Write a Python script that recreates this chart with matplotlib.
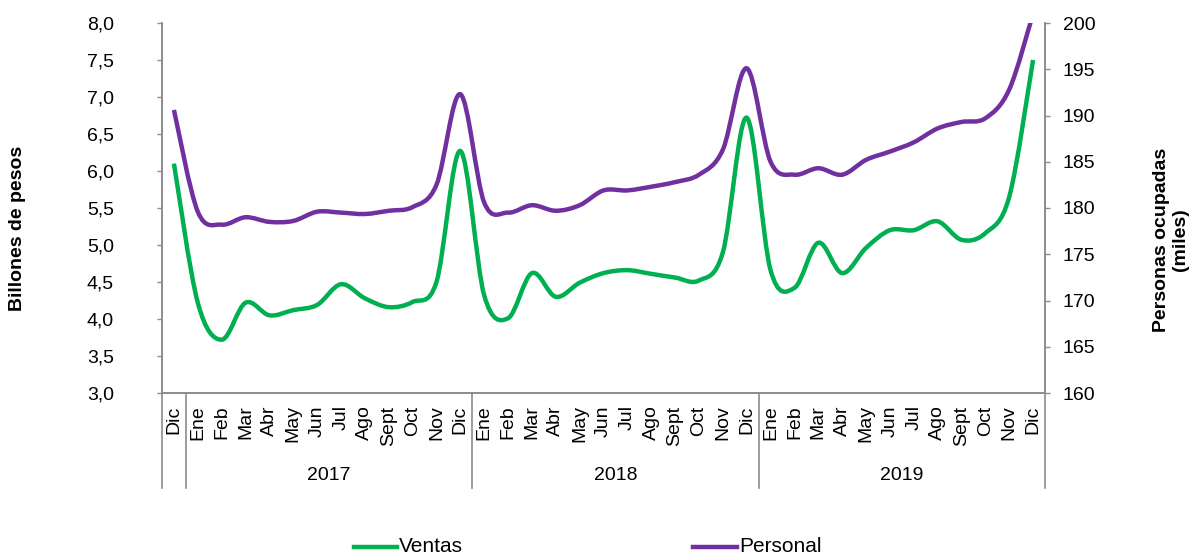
import matplotlib
matplotlib.use("Agg")
import matplotlib.pyplot as plt
from matplotlib.path import Path
from matplotlib.patches import PathPatch
from matplotlib.lines import Line2D
import matplotlib.transforms as mtransforms
import numpy as np

plt.rcParams['font.family'] = ['Liberation Sans', 'DejaVu Sans']

months = ["Dic",
          "Ene", "Feb", "Mar", "Abr", "May", "Jun", "Jul", "Ago", "Sept", "Oct", "Nov", "Dic",
          "Ene", "Feb", "Mar", "Abr", "May", "Jun", "Jul", "Ago", "Sept", "Oct", "Nov", "Dic",
          "Ene", "Feb", "Mar", "Abr", "May", "Jun", "Jul", "Ago", "Sept", "Oct", "Nov", "Dic"]
years = ["2017", "2018", "2019"]

ventas = [6.10,
          4.22, 3.72, 4.22, 4.05, 4.12, 4.19, 4.47, 4.28, 4.16, 4.23, 4.50, 6.27,
          4.32, 4.01, 4.62, 4.30, 4.49, 4.62, 4.66, 4.61, 4.56, 4.52, 4.90, 6.72,
          4.66, 4.42, 5.03, 4.62, 4.96, 5.20, 5.20, 5.32, 5.07, 5.16, 5.65, 7.50]
personal = [190.6,
            179.6, 178.2, 179.0, 178.5, 178.6, 179.6, 179.5, 179.35, 179.7, 180.1, 182.5, 192.3,
            180.6, 179.5, 180.3, 179.7, 180.3, 181.9, 181.9, 182.3, 182.8, 183.6, 186.3, 195.1,
            185.0, 183.6, 184.3, 183.6, 185.2, 186.1, 187.1, 188.6, 189.3, 189.7, 192.8, 201.0]

GREEN = "#00B050"
PURPLE = "#7030A0"
GRAY = "#8C8C8C"
FS = 14


def smooth_path(xs, ys):
    xs = np.asarray(xs, float)
    ys = np.asarray(ys, float)
    n = len(xs)
    verts = [(xs[0], ys[0])]
    codes = [Path.MOVETO]
    for i in range(n - 1):
        i0 = max(i - 1, 0)
        i3 = min(i + 2, n - 1)
        c1 = (xs[i] + (xs[i + 1] - xs[i0]) / 6, ys[i] + (ys[i + 1] - ys[i0]) / 6)
        c2 = (xs[i + 1] - (xs[i3] - xs[i]) / 6, ys[i + 1] - (ys[i3] - ys[i]) / 6)
        verts += [c1, c2, (xs[i + 1], ys[i + 1])]
        codes += [Path.CURVE4] * 3
    return Path(verts, codes)


fig = plt.figure(figsize=(12.02, 5.6), dpi=100)
ax = fig.add_axes([162 / 1202, 1 - 393 / 560, (1045 - 162) / 1202, (393 - 23) / 560])
ax2 = ax.twinx()

x = np.arange(len(months))
ax.add_patch(PathPatch(smooth_path(x, ventas), facecolor="none", edgecolor=GREEN,
                       lw=3.2, capstyle="butt", zorder=3))
ax2.add_patch(PathPatch(smooth_path(x, personal), facecolor="none", edgecolor=PURPLE,
                        lw=3.2, capstyle="butt", zorder=3))

ax.set_xlim(-0.5, len(months) - 0.5)
ax.set_ylim(3.0, 8.0)
ax2.set_ylim(160, 200)

yt = np.arange(3.0, 8.01, 0.5)
ax.set_yticks(yt)
ax.set_yticklabels([f"{v:.1f}".replace(".", ",") for v in yt], fontsize=FS)
yt2 = np.arange(160, 201, 5)
ax2.set_yticks(yt2)
ax2.set_yticklabels([str(v) for v in yt2], fontsize=FS)

ax.set_xticks(x)
ax.set_xticklabels(months, rotation=90, fontsize=FS, va="top")
ax.tick_params(axis="x", length=0, pad=9)
ax.tick_params(axis="y", length=3.6, color=GRAY, width=1, pad=31)
ax2.tick_params(axis="y", length=3.6, color=GRAY, width=1, pad=9)

for a in (ax, ax2):
    a.spines["top"].set_visible(False)
    for s in ("left", "right", "bottom"):
        a.spines[s].set_color(GRAY)
        a.spines[s].set_linewidth(1.2)

# group separators and year labels
trans = mtransforms.blended_transform_factory(ax.transData, ax.transAxes)
ybot = -(488 - 393) / 370
for xb in [-0.5, 0.5, 12.5, 24.5, 36.5]:
    ax.add_line(Line2D([xb, xb], [0, ybot], transform=trans, color=GRAY, lw=1.2, clip_on=False))
for i, yr in enumerate(years):
    xc = 0.5 + 12 * i + 6
    ax.text(xc, -(475 - 393) / 370, yr, transform=trans, ha="center", va="center", fontsize=FS)

fig.text(18 / 1202, 1 - 228 / 560, "Billones de pesos", rotation=90, ha="center", va="center",
         fontsize=FS, fontweight="bold")
fig.text(1171 / 1202, 1 - 240 / 560, "Personas ocupadas\n(miles)", rotation=90, ha="center",
         va="center", fontsize=FS, fontweight="bold", multialignment="center",
         linespacing=1.1)

# legend
for (x0, x1, col, lab) in [(354, 397, GREEN, "Ventas"), (693, 737, PURPLE, "Personal")]:
    fig.add_artist(Line2D([x0 / 1202, x1 / 1202], [1 - 547 / 560] * 2, color=col, lw=3.2,
                          transform=fig.transFigure))
    fig.text((x1 + 2) / 1202, 1 - 547 / 560, lab, ha="left", va="center", fontsize=15)

fig.savefig("out.png", dpi=100)
